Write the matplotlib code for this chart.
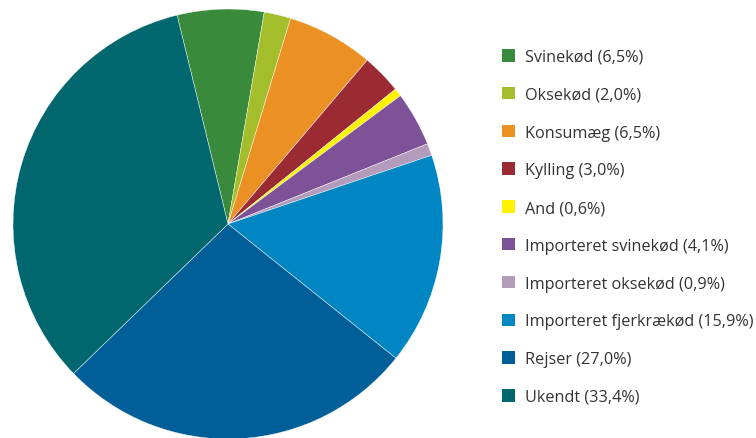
import matplotlib.pyplot as plt

labels = ["Svinekød", "Oksekød", "Konsumæg", "Kylling", "And",
          "Importeret svinekød", "Importeret oksekød",
          "Importeret fjerkrækød", "Rejser", "Ukendt"]
shares = [6.5, 2.0, 6.5, 3.0, 0.6, 4.1, 0.9, 15.9, 27.0, 33.4]
colours = ["#3a8a3c", "#a4bd2a", "#eb9123", "#9c2a32", "#fff200",
           "#7d5296", "#b39bbb", "#0086c3", "#005f98", "#00676f"]

plt.rcParams['font.family'] = ['Open Sans', 'DejaVu Sans']

W, H = 756, 439
fig = plt.figure(figsize=(W / 100, H / 100), dpi=100)

# pie placed in pixel units: centre (228, 225 from top), radius 215
cx, cy, r = 228, H - 225, 215
ax = fig.add_axes([(cx - r) / W, (cy - r) / H, 2 * r / W, 2 * r / H])
wedges, _ = ax.pie(shares, colors=colours, startangle=103.7, counterclock=False,
                   radius=1, wedgeprops=dict(edgecolor="white", linewidth=0.3))
ax.set_xlim(-1, 1)
ax.set_ylim(-1, 1)
ax.set_aspect("equal")
ax.axis("off")

leg_labels = [f"{name} ({str(v).replace('.', ',')}%)" for name, v in zip(labels, shares)]
leg = fig.legend(wedges, leg_labels, loc="upper left", bbox_to_anchor=(502 / W, 1 - 50 / H),
                 frameon=False, fontsize=11.7, handlelength=0.8, handleheight=0.8,
                 handletextpad=0.6, labelspacing=1.34, borderaxespad=0, borderpad=0)
for t in leg.get_texts():
    t.set_color("#333333")
for h in leg.legend_handles:
    h.set_linewidth(0)

fig.savefig("out.png", dpi=100)
